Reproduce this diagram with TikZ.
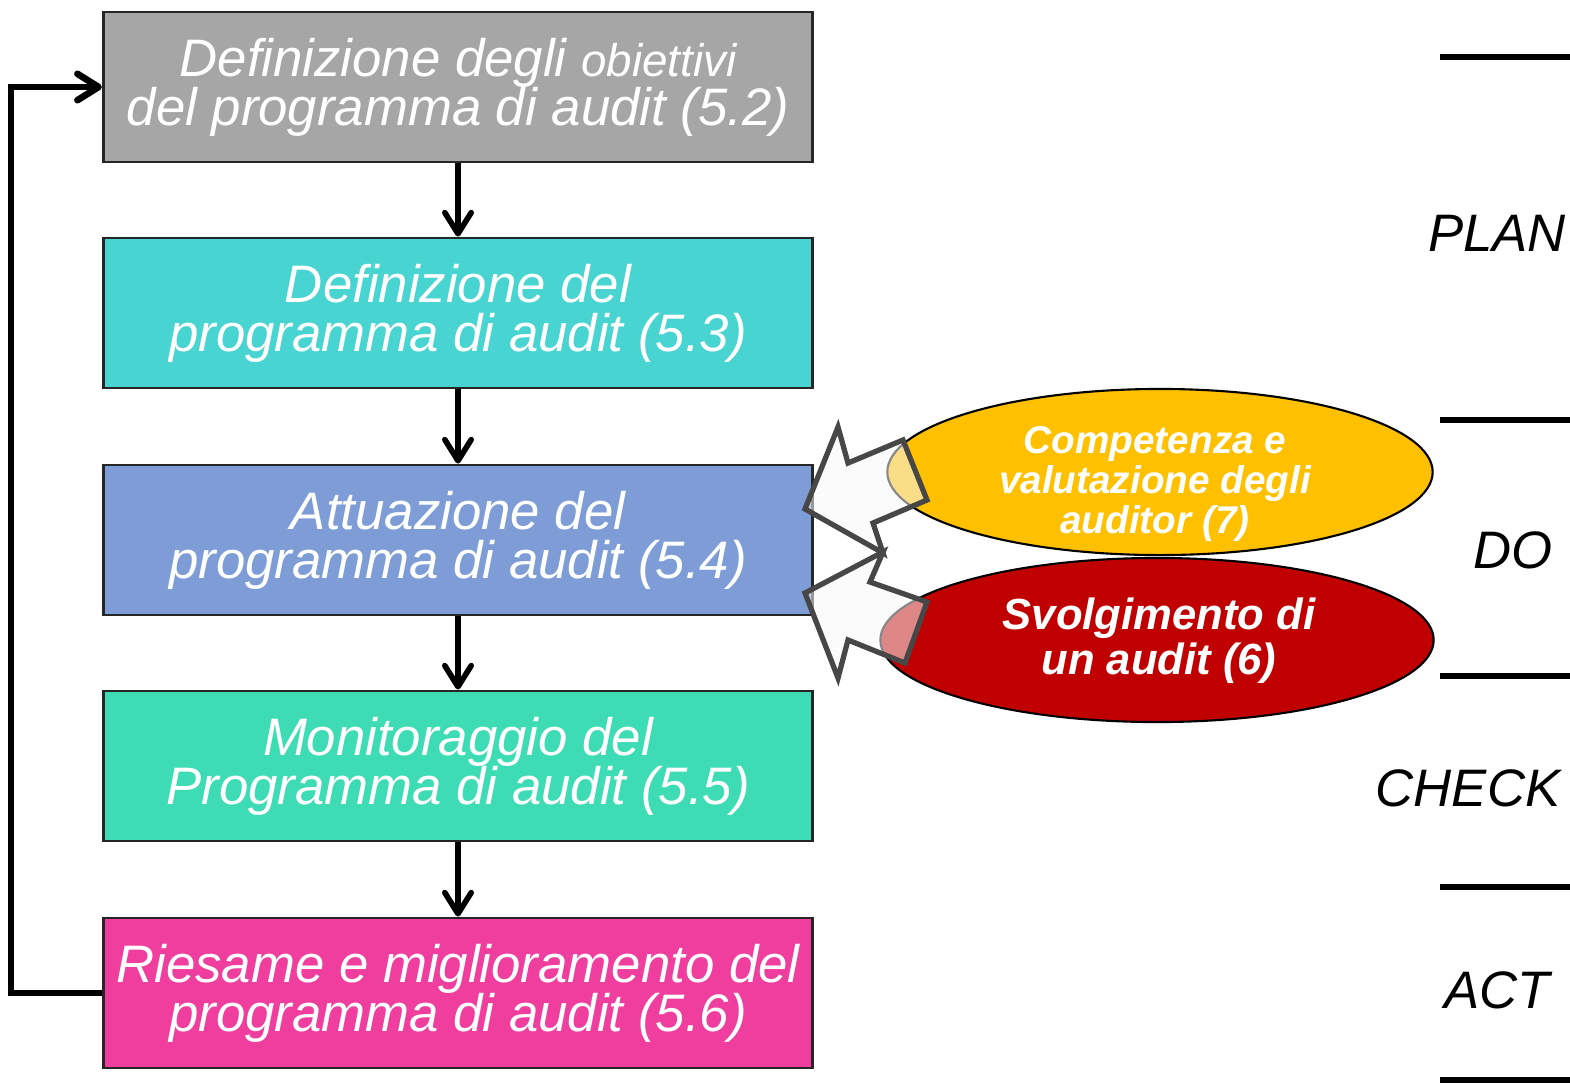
\documentclass[tikz,border=0pt]{standalone}
\usepackage{fontspec}
\setmainfont{Liberation Sans}
\usetikzlibrary{arrows.meta,shapes.geometric}
\definecolor{objgray}{RGB}{166,166,166}
\definecolor{defcyan}{RGB}{72,212,208}
\definecolor{actblue}{RGB}{126,157,214}
\definecolor{montea}{RGB}{62,220,180}
\definecolor{revpink}{RGB}{240,62,158}
\definecolor{compyellow}{RGB}{255,192,0}
\definecolor{auditred}{RGB}{192,0,0}
\begin{document}
\begin{tikzpicture} [
                x=0.01cm, y=-0.01cm,
                stage/.style={draw=black!85,line width=0.8pt,minimum width=7.09cm,minimum height=1.5cm,
                    inner sep=0pt,align=center,text=white,font=\itshape\fontsize{15}{14}\selectfont},
                flow/.style = {draw,line width=1.6pt,-{Straight Barb[length=6pt,width=7.5pt,round]}},
                input/.style = {ellipse,draw=black,line width=0.6pt,inner sep=0pt},
                input text/.style = {align=center,text=white,inner sep=0pt},
                block arrow/.style = {draw=black!72,line width=1.5pt,fill=black!3,fill opacity=0.55,line join=miter},
                phase/.style = {font=\itshape\fontsize{15}{15}\selectfont,inner sep=0pt},
                phase line/.style = {line width=1.5pt},
            ]
            \useasboundingbox (0,0) rectangle (1570,1084);
            % First we draw the stages of the programme
            \foreach \pos/\name/\col/\txt in {
                    {(458,87)/obj/objgray/{Definizione degli {\fontsize{13}{14}\selectfont obiettivi}\\del programma di audit (5.2)}},
                    {(458,313)/def/defcyan/{Definizione del\\programma di audit (5.3)}},
                    {(458,540)/act/actblue/{Attuazione del\\programma di audit (5.4)}},
                    {(458,766)/mon/montea/{Monitoraggio del\\Programma di audit (5.5)}},
                    {(458,993)/rev/revpink/{Riesame e miglioramento del\\programma di audit (5.6)}}}
                \node[stage,fill=\col] (\name) at \pos {\txt};
            % Connect stages with arrows
            \foreach \source/ \dest in {
                    obj/def, def/act, act/mon, mon/rev}
                \path[flow] (\source) -- (\dest);
            \path[flow,line width=1.9pt] (rev.west) -- ++(-91,0) |- (obj.west);
            % inputs to the implementation
            \node[input,fill=compyellow,minimum width=5.45cm,minimum height=1.66cm] (comp) at (1160,472) {};
            \node[input,fill=auditred,minimum width=5.53cm,minimum height=1.64cm] (perf) at (1157,640) {};
            \node[input text,font=\bfseries\itshape\fontsize{11}{11.4}\selectfont] (comp text) at (1155,484)
                {Competenza e\\valutazione degli\\auditor (7)};
            \node[input text,font=\bfseries\itshape\fontsize{12.4}{12.8}\selectfont] (perf text) at (1159,641)
                {Svolgimento di\\un audit (6)};
            \path[block arrow] (805,509) -- (838,427) -- (848,463) -- (903,440) -- (927,500)
                -- (873,523) -- (883,553) -- cycle;
            \path[block arrow] (805,593) -- (883,552) -- (870,582) -- (927,602) -- (905,663)
                -- (848,640) -- (838,678) -- cycle;
            % PDCA phases
            \foreach \y in {57,420,676,887,1080}
                \draw[phase line] (1440,\y) -- (1570,\y);
            \foreach \pos/\name in {
                    {(1497,233)/PLAN}, {(1513,550)/DO}, {(1468,788)/CHECK}, {(1497,990)/ACT}}
                \node[phase] (\name) at \pos {\name};
        \end{tikzpicture}
\end{document}
